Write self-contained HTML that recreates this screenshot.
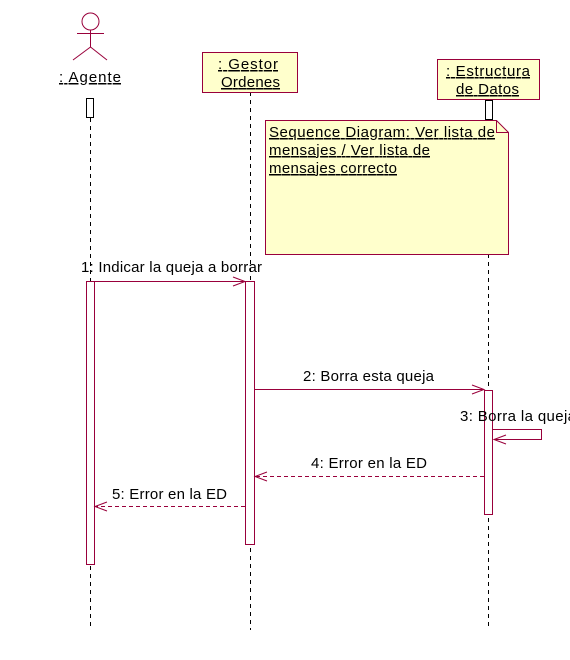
<!DOCTYPE html>
<html><head><style>html,body{margin:0;padding:0;background:#fff;}svg{display:block}</style></head>
<body>
<svg width="570" height="660" viewBox="0 0 570 660" xmlns="http://www.w3.org/2000/svg" font-family="Liberation Sans, sans-serif" font-size="15">
<g stroke="#000" stroke-dasharray="4,4" stroke-width="1">
<line x1="90.5" y1="118" x2="90.5" y2="630"/>
<line x1="250.5" y1="92" x2="250.5" y2="630"/>
<line x1="488.5" y1="254" x2="488.5" y2="630"/>
</g>
<g stroke="#99003B" fill="none" stroke-width="1">
<circle cx="90.5" cy="21.5" r="8.5"/>
<line x1="90.5" y1="30" x2="90.5" y2="47"/>
<line x1="77" y1="33.5" x2="104" y2="33.5"/>
<line x1="90.5" y1="47" x2="73" y2="60"/>
<line x1="90.5" y1="47" x2="107" y2="60"/>
</g>
<g stroke="#99003B" fill="#FFFFCC">
<rect x="202.5" y="52.5" width="95" height="40"/>
<rect x="437.5" y="59.5" width="102" height="40"/>
<path d="M265.5 120.5 H496.5 L508.5 132.5 V254.5 H265.5 Z"/>
</g>
<path d="M496.5 120.5 V132.5 H508.5" fill="none" stroke="#99003B"/>
<g stroke="#000" fill="#fff">
<rect x="86.5" y="98.5" width="7" height="19"/>
<rect x="485.5" y="100.5" width="7" height="19"/>
</g>
<g stroke="#99003B" fill="#fff">
<rect x="86.5" y="281.5" width="8" height="283"/>
<rect x="245.5" y="281.5" width="9" height="263"/>
<rect x="484.5" y="390.5" width="8" height="124"/>
</g>
<g stroke="#99003B" fill="none">
<line x1="94" y1="281.5" x2="245" y2="281.5"/>
<path d="M233 277 L245 281.5 L233 286"/>
<line x1="254" y1="389.5" x2="484" y2="389.5"/>
<path d="M472 385 L484 389.5 L472 394"/>
<path d="M493 429.5 H541.5 V439.5 H494"/>
<path d="M506 435 L494 439.5 L506 444"/>
<line x1="484" y1="476.5" x2="255" y2="476.5" stroke-dasharray="4,3"/>
<path d="M267 472 L255 476.5 L267 481"/>
<line x1="245" y1="506.5" x2="95" y2="506.5" stroke-dasharray="4,3"/>
<path d="M107 502 L95 506.5 L107 511"/>
</g>
<g fill="#000" text-decoration="underline">
<text x="59" y="82" textLength="62">: Agente</text>
<text x="218" y="69" textLength="60">: Gestor</text>
<text x="221" y="87" textLength="59">Ordenes</text>
<text x="446" y="76" textLength="84">: Estructura</text>
<text x="456" y="94" textLength="63">de Datos</text>
<text x="269" y="137" textLength="226">Sequence Diagram: Ver lista de</text>
<text x="269" y="155" textLength="161">mensajes / Ver lista de</text>
<text x="269" y="173" textLength="128">mensajes correcto</text>
</g>
<g fill="#000">
<text x="81" y="272" textLength="181">1: Indicar la queja a borrar</text>
<text x="303" y="381" textLength="131">2: Borra esta queja</text>
<text x="460" y="421" textLength="116">3: Borra la queja</text>
<text x="311" y="468" textLength="116">4: Error en la ED</text>
<text x="112" y="499" textLength="115">5: Error en la ED</text>
</g>
</svg>
</body></html>
